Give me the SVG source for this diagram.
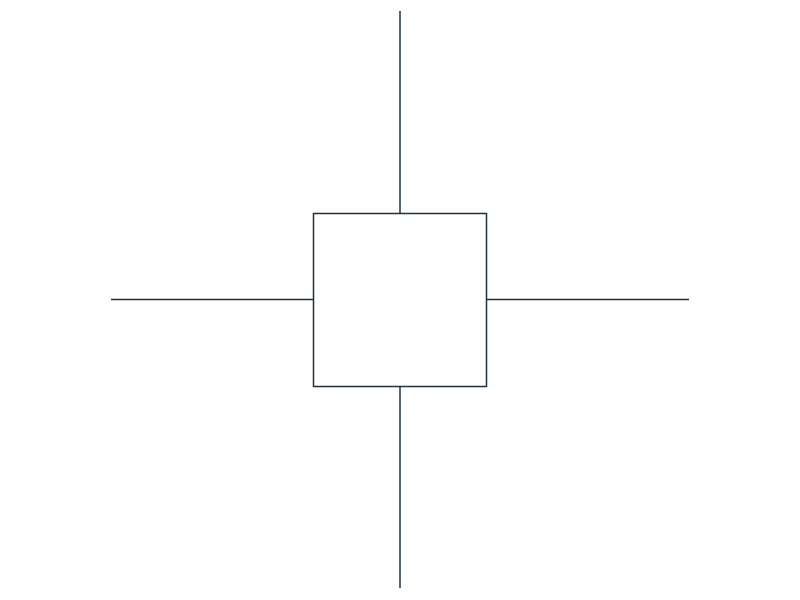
<svg xmlns="http://www.w3.org/2000/svg" width="800" height="600" viewBox="0 0 800 600">
<style>
.ln{stroke:#1c3240;stroke-width:1.5;fill:none}
.box{stroke:#1c3240;stroke-width:1.5;fill:#ffffff}
</style>
<rect width="800" height="600" fill="#ffffff"/>
<g id="connectors">
<line class="ln" x1="400" y1="11" x2="400" y2="213"/>
<line class="ln" x1="400" y1="386" x2="400" y2="588"/>
<line class="ln" x1="111" y1="299.5" x2="313.5" y2="299.5"/>
<line class="ln" x1="486.5" y1="299.5" x2="689" y2="299.5"/>
</g>
<g id="node-center">
<rect class="box" x="313.5" y="213.5" width="173" height="173"/>
</g>
</svg>
